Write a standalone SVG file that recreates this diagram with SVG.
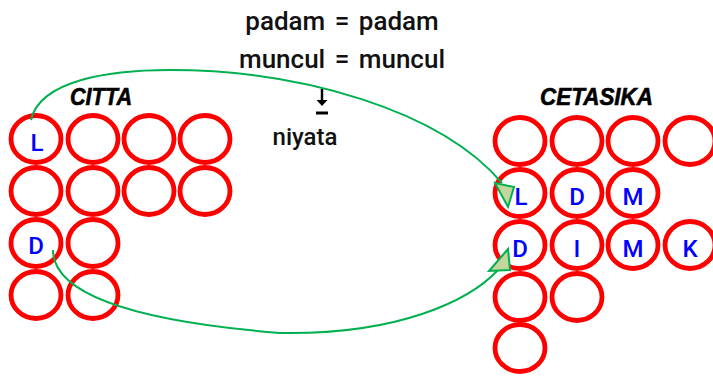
<svg xmlns="http://www.w3.org/2000/svg" width="713" height="376" viewBox="0 0 713 376">
  <style>
    .cell { fill: none; stroke: #ff0000; stroke-width: 4.8; }
    .mark { font-family: Roboto, "Liberation Sans", sans-serif; font-size: 24px; font-weight: 500; fill: #0000ff; text-anchor: middle; }
    .head { font-family: Roboto, "Liberation Sans", sans-serif; font-size: 26px; font-weight: 500; fill: #111; text-anchor: middle; }
    .sub { font-family: Roboto, "Liberation Sans", sans-serif; font-size: 24px; font-weight: 500; fill: #111; text-anchor: middle; }
    .title { font-family: "Liberation Sans", Arial, sans-serif; font-size: 24px; font-weight: bold; font-style: italic; fill: #000; stroke: #000; stroke-width: 0.6; }
    .link { fill: none; stroke: #00b050; stroke-width: 2; }
    .tip { fill: #c3d69b; stroke: #00b050; stroke-width: 2; stroke-linejoin: miter; }
  </style>
  <defs>
    <ellipse id="ring" cx="0" cy="0" rx="25" ry="23.5"/>
  </defs>
  <rect width="713" height="376" fill="#fff"/>

  <!-- heading -->
  <g id="heading">
    <text class="head" x="342" y="30" word-spacing="3">padam = padam</text>
    <text class="head" x="342" y="68" word-spacing="3">muncul = muncul</text>
  </g>

  <!-- niyata with arrow-to-bar symbol -->
  <g id="niyata">
    <line x1="322" y1="89" x2="322" y2="101" stroke="#000" stroke-width="2.5"/>
    <polygon points="316.5,100 327.5,100 322,106" fill="#000"/>
    <line x1="316" y1="113" x2="328" y2="113" stroke="#000" stroke-width="3"/>
    <text class="sub" x="305" y="145">niyata</text>
  </g>

  <!-- CITTA grid -->
  <g id="citta">
    <text class="title" x="70" y="105" textLength="62" lengthAdjust="spacingAndGlyphs">CITTA</text>
    <g id="citta-cells">
      <use href="#ring" class="cell" x="36" y="139"/>
      <use href="#ring" class="cell" x="93" y="139"/>
      <use href="#ring" class="cell" x="149" y="139"/>
      <use href="#ring" class="cell" x="205" y="139"/>
      <use href="#ring" class="cell" x="36" y="191"/>
      <use href="#ring" class="cell" x="93" y="191"/>
      <use href="#ring" class="cell" x="149" y="191"/>
      <use href="#ring" class="cell" x="205" y="191"/>
      <use href="#ring" class="cell" x="36" y="243"/>
      <use href="#ring" class="cell" x="93" y="243"/>
      <use href="#ring" class="cell" x="36" y="295"/>
      <use href="#ring" class="cell" x="93" y="295"/>
    </g>
    <text class="mark" x="37" y="151">L</text>
    <text class="mark" x="36" y="254">D</text>
  </g>

  <!-- CETASIKA grid -->
  <g id="cetasika">
    <text class="title" x="540" y="105" textLength="113" lengthAdjust="spacingAndGlyphs">CETASIKA</text>
    <g id="cetasika-cells">
      <use href="#ring" class="cell" x="520" y="141"/>
      <use href="#ring" class="cell" x="577" y="141"/>
      <use href="#ring" class="cell" x="633" y="141"/>
      <use href="#ring" class="cell" x="690" y="141"/>
      <use href="#ring" class="cell" x="520" y="193"/>
      <use href="#ring" class="cell" x="577" y="193"/>
      <use href="#ring" class="cell" x="633" y="193"/>
      <use href="#ring" class="cell" x="520" y="245"/>
      <use href="#ring" class="cell" x="577" y="245"/>
      <use href="#ring" class="cell" x="633" y="245"/>
      <use href="#ring" class="cell" x="690" y="245"/>
      <use href="#ring" class="cell" x="520" y="297"/>
      <use href="#ring" class="cell" x="577" y="297"/>
      <use href="#ring" class="cell" x="520" y="348"/>
    </g>
    <text class="mark" x="521" y="205">L</text>
    <text class="mark" x="577" y="205">D</text>
    <text class="mark" x="633" y="205">M</text>
    <text class="mark" x="520" y="257">D</text>
    <text class="mark" x="577" y="257">I</text>
    <text class="mark" x="633" y="257">M</text>
    <text class="mark" x="690" y="257">K</text>
  </g>

  <!-- connectors -->
  <g id="connectors">
    <path class="link" d="M31,120 C40,80 110,70 170,70 C300,70 440,110 502,183"/>
    <polygon class="tip" points="495,183 514,187 508,207"/>
    <path class="link" d="M53,250 C53,290 120,320 280,333 C400,335 470,300 498,270"/>
    <polygon class="tip" points="489,271 508,249 510,270"/>
  </g>
</svg>
